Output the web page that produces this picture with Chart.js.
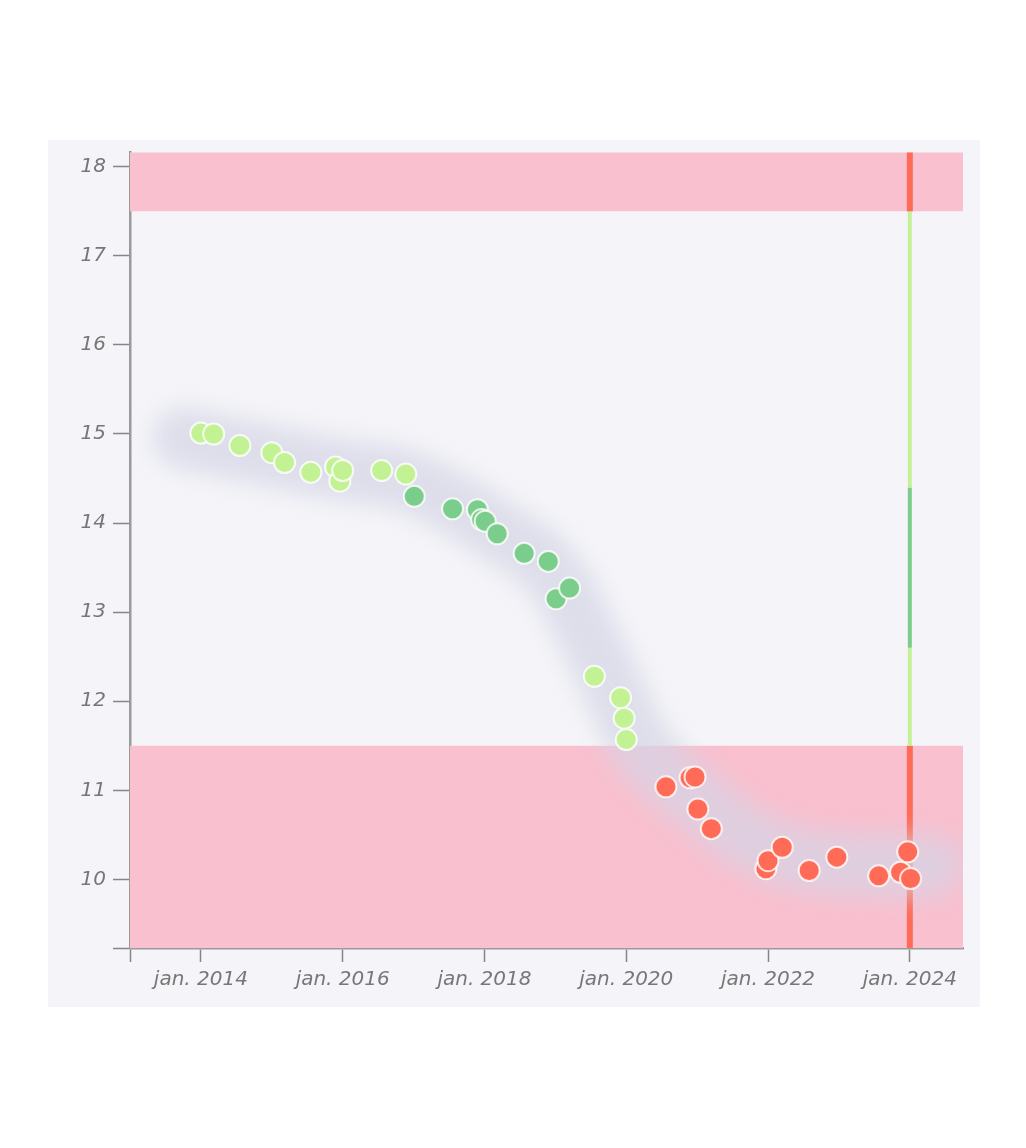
<!DOCTYPE html>
<html>
<head>
<meta charset="UTF-8">
<title>Measurements</title>
<script src="https://cdn.jsdelivr.net/npm/chart.js"></script>
<style>
  body { margin: 0; background: #fff; }
  #panel { position: absolute; left: 48px; top: 140px; width: 932px; height: 867px; background: #f5f5f9; }
</style>
</head>
<body>
<div id="panel"><canvas id="measureChart"></canvas></div>
<script>
// measurement dates (decimal years) and values
const years = [2014.0, 2014.18, 2014.55, 2015.0, 2015.18, 2015.55, 2015.9, 2015.96, 2016.0, 2016.55,
               2016.89, 2017.01, 2017.55, 2017.9, 2017.96, 2018.01, 2018.18, 2018.56, 2018.9, 2019.01,
               2019.2, 2019.55, 2019.92, 2019.97, 2020.0, 2020.56, 2020.9, 2020.97, 2021.01, 2021.2,
               2021.97, 2022.0, 2022.2, 2022.58, 2022.97, 2023.56, 2023.87, 2023.97, 2024.01];
const values = [15.01, 15.0, 14.87, 14.79, 14.68, 14.57, 14.63, 14.47, 14.59, 14.59,
                14.55, 14.3, 14.16, 14.15, 14.04, 14.02, 13.88, 13.66, 13.57, 13.15,
                13.27, 12.28, 12.04, 11.81, 11.57, 11.04, 11.14, 11.15, 10.79, 10.57,
                10.12, 10.21, 10.36, 10.1, 10.25, 10.04, 10.08, 10.31, 10.01];

// smoothed trend (the grey halo)
const trendYears = [2013.75, 2014.7, 2015.95, 2016.8, 2017.5, 2018.2, 2018.9, 2019.45, 2019.9, 2020.3,
                    2021.0, 2021.85, 2022.7, 2023.85, 2024.3];
const trendValues = [14.95, 14.8, 14.6, 14.5, 14.25, 13.9, 13.5, 12.75, 12.0, 11.4,
                     10.9, 10.4, 10.2, 10.15, 10.15];

// zone limits: low, ok-low, ok-high, high
const limits = [11.5, 12.6, 14.4, 17.5];
const gaugeYear = 2024.0;

const xTicks = [2013, 2014, 2016, 2018, 2020, 2022, 2024];
const yTicks = [9.23, 10, 11, 12, 13, 14, 15, 16, 17, 18];
const xRange = [2013, 2024.75];
const yRange = [9.23, 18.16];

const RED = '#ff6b57';
const LIGHT = '#c3f295';
const DARK = '#7bcd8c';
const PINK = '#f9c0cf';

function zoneColor(v) {
    if (v < limits[0] || v > limits[3]) return RED;
    if (v >= limits[1] && v <= limits[2]) return DARK;
    return LIGHT;
}

const bandsPlugin = {
    id: 'bands',
    beforeDatasetsDraw(chart) {
        const {ctx, chartArea: a, scales: {x, y}} = chart;
        ctx.save();
        ctx.fillStyle = PINK;
        const yLow = y.getPixelForValue(limits[0]);
        const yHigh = y.getPixelForValue(limits[3]);
        ctx.fillRect(a.left, yLow, a.right - a.left, a.bottom - yLow);
        ctx.fillRect(a.left, a.top, a.right - a.left, yHigh - a.top);

        // vertical zone gauge at the latest date
        const gx = x.getPixelForValue(gaugeYear);
        const edges = [yRange[0]].concat(limits, [yRange[1]]);
        const cols = [RED, LIGHT, DARK, LIGHT, RED];
        const widths = [6, 4, 4, 4, 6];
        for (let i = 0; i < cols.length; i++) {
            ctx.strokeStyle = cols[i];
            ctx.lineWidth = widths[i];
            ctx.beginPath();
            ctx.moveTo(gx, y.getPixelForValue(edges[i]));
            ctx.lineTo(gx, y.getPixelForValue(edges[i + 1]));
            ctx.stroke();
        }
        ctx.restore();
    },
    beforeDatasetDraw(chart, args) {
        if (args.index === 1) {
            chart.ctx.save();
            chart.ctx.filter = 'blur(12px)';
        }
    },
    afterDatasetDraw(chart, args) {
        if (args.index === 1) chart.ctx.restore();
    }
};

const tickFont = {family: 'DejaVu Sans, sans-serif', size: 20, style: 'italic'};

new Chart(document.getElementById('measureChart'), {
    type: 'scatter',
    data: {
        datasets: [{
            data: years.map((yr, i) => ({x: yr, y: values[i]})),
            backgroundColor: ctx => zoneColor(ctx.raw ? ctx.raw.y : 0),
            borderColor: 'rgba(255,255,255,0.8)',
            borderWidth: 2,
            pointRadius: 10.5,
            pointHoverRadius: 10.5,
            order: 1
        }, {
            data: trendYears.map((yr, i) => ({x: yr, y: trendValues[i]})),
            showLine: true,
            borderColor: 'rgba(212,212,230,0.7)',
            borderWidth: 62,
            borderCapStyle: 'round',
            tension: 0.4,
            pointRadius: 0,
            order: 2
        }]
    },
    options: {
        responsive: true,
        maintainAspectRatio: false,
        animation: false,
        layout: {padding: {top: 10, right: 17, left: 0, bottom: 0}},
        plugins: {legend: {display: false}, tooltip: {enabled: false}},
        scales: {
            x: {
                type: 'linear',
                min: xRange[0],
                max: xRange[1],
                afterBuildTicks: s => { s.ticks = xTicks.map(v => ({value: v})); },
                afterFit: s => { s.height = 59; s.paddingLeft = 0; s.paddingRight = 0; },
                border: {color: '#9a9a9a', width: 2.5},
                grid: {drawOnChartArea: false, color: '#858585', tickLength: 14, tickWidth: 1.5},
                ticks: {
                    color: '#777', font: tickFont, padding: 6, maxRotation: 0, autoSkip: false,
                    callback: v => v === xRange[0] ? '' : 'jan. ' + v
                }
            },
            y: {
                min: yRange[0],
                max: yRange[1],
                afterBuildTicks: s => { s.ticks = yTicks.map(v => ({value: v})); },
                afterFit: s => { s.width = 82; s.paddingTop = 0; s.paddingBottom = 0; },
                border: {color: '#9a9a9a', width: 2.5},
                grid: {drawOnChartArea: false, color: '#858585', tickLength: 17, tickWidth: 1.5},
                ticks: {
                    color: '#777', font: tickFont, padding: 7, autoSkip: false,
                    callback: v => v === yRange[0] ? '' : v
                }
            }
        }
    },
    plugins: [bandsPlugin]
});
</script>
</body>
</html>
